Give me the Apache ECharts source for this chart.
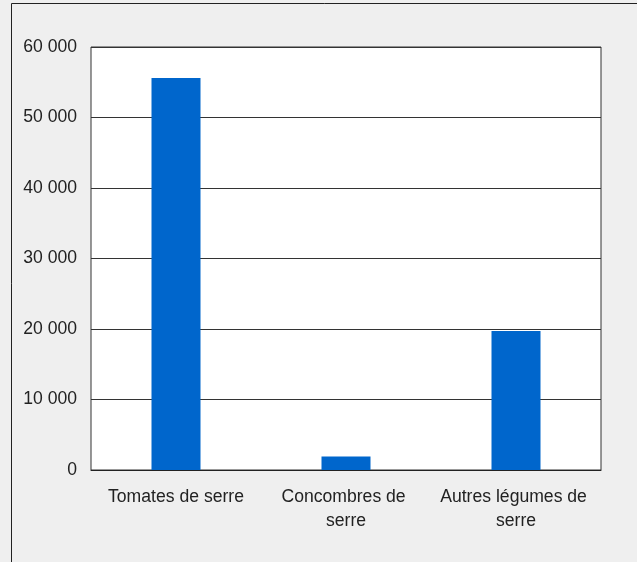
<!DOCTYPE html>
<html><head><meta charset="utf-8">
<script src="https://cdn.jsdelivr.net/npm/echarts@6/dist/echarts.min.js"></script>
<style>html,body{margin:0;padding:0;background:#efefef;}#c{width:637px;height:562px;}</style>
</head><body><div id="c"></div>
<script>
const categories = ['Tomates de serre', 'Concombres de serre', 'Autres légumes de serre'];
const values = [55600, 1900, 19700];
const yTicks = [0, 10000, 20000, 30000, 40000, 50000, 60000];

const chart = echarts.init(document.getElementById('c'), null, {renderer: 'canvas'});
const font = 'Liberation Sans, Arial, sans-serif';
chart.setOption({
  backgroundColor: '#efefef',
  animation: false,
  graphic: [{
    type: 'rect', z: -10, silent: true,
    shape: {x: 11.5, y: 3.5, width: 800, height: 800},
    style: {fill: '#efefef', stroke: '#222', lineWidth: 1}
  }],
  grid: {left: 91, top: 47, right: 36, bottom: 92, show: true, backgroundColor: '#fff', borderColor: '#333', borderWidth: 1},
  xAxis: {
    type: 'category', data: categories,
    axisLine: {lineStyle: {color: '#222', width: 1}},
    axisTick: {show: false},
    axisLabel: {color: '#222', fontFamily: font, fontSize: 17.6, margin: 15, lineHeight: 24, width: 160, overflow: 'break', interval: 0}
  },
  yAxis: {
    type: 'value', min: 0, max: 60000, interval: 10000,
    axisLine: {show: false}, axisTick: {show: false},
    splitLine: {lineStyle: {color: '#333', width: 1}},
    axisLabel: {color: '#222', fontFamily: font, fontSize: 17.6, margin: 14,
      formatter: v => String(v).replace(/\B(?=(\d{3})+(?!\d))/g, ' ')}
  },
  series: [{
    type: 'bar', data: values, barWidth: 49,
    itemStyle: {color: '#0066cc'}
  }]
});
</script></body></html>
